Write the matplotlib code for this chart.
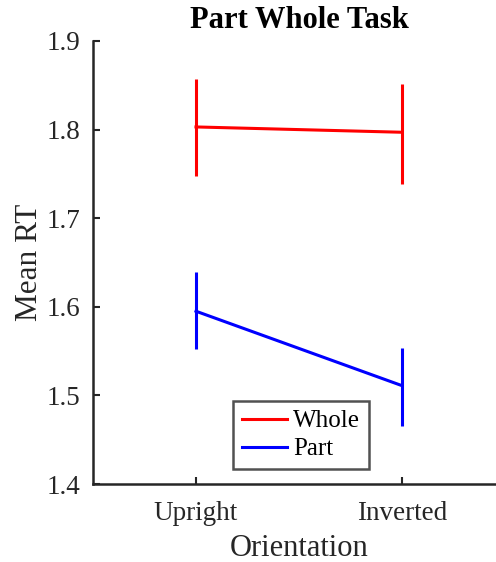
import matplotlib
matplotlib.use("Agg")
import matplotlib.pyplot as plt
from matplotlib.lines import Line2D

conditions = ["Upright", "Inverted"]
whole_mean = [1.803, 1.797]
whole_low = [1.748, 1.739]
whole_high = [1.857, 1.852]
part_mean = [1.595, 1.511]
part_low = [1.552, 1.466]
part_high = [1.639, 1.553]

plt.rcParams["font.family"] = ["Liberation Serif", "DejaVu Serif"]

fig = plt.figure(figsize=(4.96, 5.62), dpi=100)
ax = fig.add_axes([93 / 496, 1 - 484 / 562, 412 / 496, 443 / 562])

x = [1, 2]
handles = []
for mean, low, high, color, name in [
    (whole_mean, whole_low, whole_high, "#ff0000", "Whole"),
    (part_mean, part_low, part_high, "#0000ff", "Part"),
]:
    yerr = [[m - l for m, l in zip(mean, low)], [h - m for m, h in zip(mean, high)]]
    ax.errorbar(x, mean, yerr=yerr, color=color, lw=2.2, elinewidth=2.2, capsize=0)
    handles.append(Line2D([], [], color=color, lw=2.2, label=name))

ax.set_xlim(0.5, 2.5)
ax.set_ylim(1.4, 1.9)
ax.set_xticks(x)
ax.set_xticklabels(conditions)
ax.set_yticks([1.4, 1.5, 1.6, 1.7, 1.8, 1.9])
ax.tick_params(direction="in", length=5, width=1.5, labelsize=19.5, colors="#262626",
               labelcolor="#262626")
ax.tick_params(axis="y", pad=9)
ax.tick_params(axis="x", pad=12)
for side in ["top", "right"]:
    ax.spines[side].set_visible(False)
for side in ["left", "bottom"]:
    ax.spines[side].set_linewidth(1.8)
    ax.spines[side].set_color("#262626")

ax.set_xlabel("Orientation", fontsize=22, color="#262626", labelpad=6)
ax.set_ylabel("Mean RT", fontsize=22.5, color="#262626", labelpad=2)
ax.set_title("Part Whole Task", fontsize=22, fontweight="bold", pad=9)

leg = ax.legend(handles=handles, loc="lower left",
                bbox_to_anchor=((233 - 93) / 412, (484 - 469) / 443),
                fontsize=18, frameon=True, fancybox=False, handlelength=1.8,
                borderpad=0.35, labelspacing=0.22, handletextpad=0.25,
                borderaxespad=0)
leg.get_frame().set_edgecolor("#262626")
leg.get_frame().set_linewidth(1.8)

fig.savefig("out.png", dpi=100)
